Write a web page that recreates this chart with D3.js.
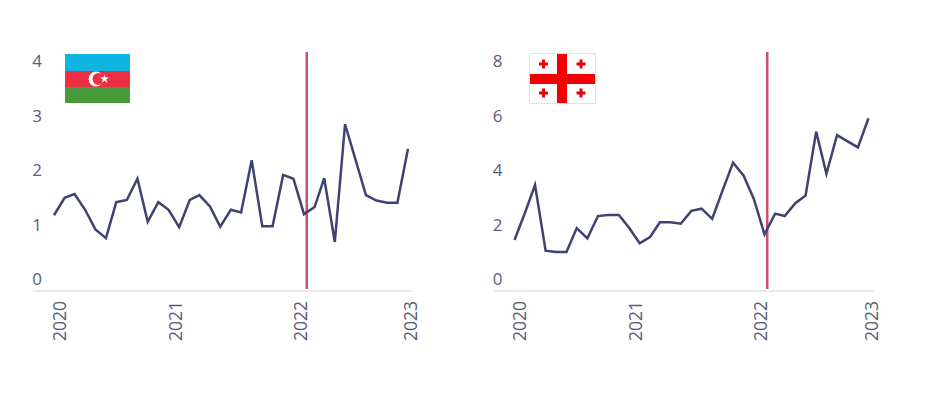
<!DOCTYPE html>
<html>
<head>
<meta charset="utf-8">
<script src="https://cdn.jsdelivr.net/npm/d3@7"></script>
<style>
    html, body { margin: 0; background: #ffffff; }
    text { font-family: "Open Sans", sans-serif; }
</style>
</head>
<body>
<div id="canvas"></div>
<script>
const firstMonth = new Date(2020, 0, 1);
const lastMonth = new Date(2022, 10, 1);
const months = d3.timeMonth.range(firstMonth, d3.timeMonth.offset(lastMonth, 1));
const markerDate = new Date(2022, 0, 9);

const yearLabels = ["2020", "2021", "2022", "2023"];
const yearTicks = [firstMonth, new Date(2021, 0, 1), new Date(2022, 0, 1), lastMonth];

const azerbaijanValues = [
    1.39, 1.71, 1.78, 1.49, 1.13, 0.97, 1.63, 1.67, 2.06, 1.27, 1.63, 1.49,
    1.17, 1.67, 1.76, 1.55, 1.18, 1.49, 1.44, 2.40, 1.19, 1.19, 2.13, 2.06,
    1.41, 1.54, 2.07, 0.90, 3.06, 2.40, 1.76, 1.66, 1.62, 1.62, 2.61
];
const azerbaijanTicks = [0, 1, 2, 3, 4];

const georgiaValues = [
    1.87, 2.88, 3.89, 1.48, 1.43, 1.43, 2.31, 1.93, 2.75, 2.79, 2.79, 2.32,
    1.75, 1.99, 2.52, 2.52, 2.47, 2.94, 3.02, 2.65, 3.71, 4.71, 4.23, 3.37,
    2.08, 2.84, 2.75, 3.22, 3.50, 5.85, 4.30, 5.72, 5.49, 5.27, 6.34
];
const georgiaTicks = [0, 2, 4, 6, 8];

const inkColor = "#5b5d74";
const lineColor = "#3f4272";
const markerColor = "#c9526f";

const svg = d3.select("#canvas")
    .append("svg")
    .attr("width", 932)
    .attr("height", 395)
    .style("display", "block");

function drawPanel(originX, values, yTicks, flag) {
    const g = svg.append("g").attr("transform", `translate(${originX},0)`);

    const x = d3.scaleTime()
        .domain([firstMonth, lastMonth])
        .range([0, 354]);

    const y = d3.scaleLinear()
        .domain([0, d3.max(yTicks)])
        .range([291, 73]);

    // Baseline
    g.append("line")
        .attr("x1", -21).attr("x2", 359)
        .attr("y1", 291).attr("y2", 291)
        .attr("stroke", "#e1e1e7")
        .attr("stroke-width", 1.5);

    // X axis, labels rotated and nudged off their ticks
    const labelNudge = [5, -4, -4, 2.5];
    const xAxis = g.append("g")
        .attr("transform", "translate(0,291)")
        .call(d3.axisBottom(x)
            .tickValues(yearTicks)
            .tickSize(0)
            .tickFormat((d, i) => yearLabels[i]));
    xAxis.select(".domain").remove();
    xAxis.selectAll("text")
        .attr("transform", (d, i) => `translate(${labelNudge[i]},10) rotate(-90)`)
        .attr("x", 0)
        .attr("y", 0)
        .attr("dy", "0.35em")
        .attr("text-anchor", "end")
        .style("font-size", "17.5px")
        .style("font-family", '"Open Sans", sans-serif')
        .style("fill", inkColor);

    // Y axis, labels sit above their value
    const yAxis = g.append("g")
        .call(d3.axisLeft(y).tickValues(yTicks).tickSize(0).tickPadding(0).tickFormat(d3.format("d")));
    yAxis.select(".domain").remove();
    yAxis.selectAll("text")
        .attr("x", -12)
        .attr("dy", "-0.37em")
        .attr("text-anchor", "end")
        .style("font-size", "17px")
        .style("font-family", '"Open Sans", sans-serif')
        .style("fill", inkColor);

    // Marker line
    g.append("line")
        .attr("x1", x(markerDate)).attr("x2", x(markerDate))
        .attr("y1", 52).attr("y2", 289)
        .attr("stroke", markerColor)
        .attr("stroke-width", 2.5);

    // Series
    g.append("path")
        .datum(values)
        .attr("fill", "none")
        .attr("stroke", lineColor)
        .attr("stroke-width", 2.5)
        .attr("stroke-linejoin", "miter")
        .attr("d", d3.line()
            .x((d, i) => x(months[i]))
            .y(d => y(d)));

    flag(g.append("g"));
}

function azerbaijanFlag(g) {
    g.attr("transform", "translate(11,54)");
    g.append("rect").attr("width", 65).attr("height", 17).attr("fill", "#10b4e0");
    g.append("rect").attr("y", 17).attr("width", 65).attr("height", 16).attr("fill", "#ee2f43");
    g.append("rect").attr("y", 33).attr("width", 65).attr("height", 16).attr("fill", "#479b38");
    g.append("circle").attr("cx", 31).attr("cy", 25).attr("r", 7.5).attr("fill", "#ffffff");
    g.append("circle").attr("cx", 33.5).attr("cy", 25).attr("r", 6).attr("fill", "#ee2f43");
    g.append("path")
        .attr("transform", "translate(39.5,25)")
        .attr("fill", "#ffffff")
        .attr("d", d3.symbol(d3.symbolStar, 24));
}

function georgiaFlag(g) {
    g.attr("transform", "translate(14.5,53)");
    g.append("rect")
        .attr("x", 0.5).attr("y", 0.5)
        .attr("width", 66).attr("height", 50)
        .attr("fill", "#ffffff")
        .attr("stroke", "#e2e2e2");
    g.append("rect").attr("x", 28).attr("y", 1).attr("width", 10).attr("height", 49).attr("fill", "#f50000");
    g.append("rect").attr("x", 1).attr("y", 21).attr("width", 65).attr("height", 10).attr("fill", "#f50000");
    [[14.5, 11], [52, 11], [14.5, 40], [52, 40]].forEach(c => {
        g.append("path")
            .attr("transform", `translate(${c[0]},${c[1]})`)
            .attr("fill", "#e8000b")
            .attr("d", "M-1.5,-4.5H1.5V-1.5H4.5V1.5H1.5V4.5H-1.5V1.5H-4.5V-1.5H-1.5Z");
    });
}

drawPanel(54, azerbaijanValues, azerbaijanTicks, azerbaijanFlag);
drawPanel(514.5, georgiaValues, georgiaTicks, georgiaFlag);
</script>
</body>
</html>
